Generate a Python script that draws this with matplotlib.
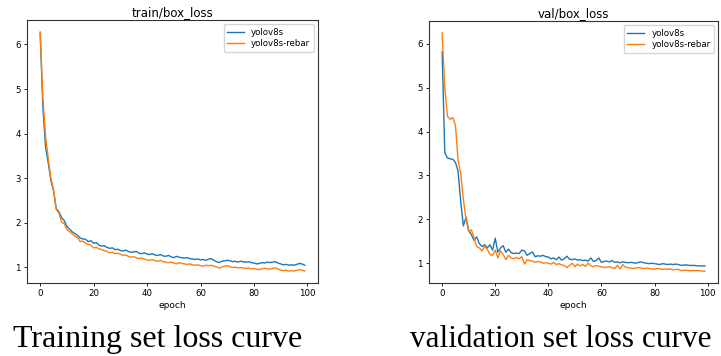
import matplotlib
matplotlib.use("Agg")
import matplotlib.pyplot as plt

epochs = list(range(100))

train_yolov8s = [6.25, 4.60, 3.70, 3.35, 2.95, 2.72, 2.32, 2.25, 2.12, 2.05,
                 1.92, 1.86, 1.80, 1.76, 1.72, 1.66, 1.64, 1.63, 1.58, 1.60,
                 1.54, 1.56, 1.50, 1.48, 1.49, 1.45, 1.43, 1.44, 1.40, 1.41,
                 1.38, 1.37, 1.39, 1.36, 1.34, 1.35, 1.36, 1.32, 1.31, 1.33,
                 1.30, 1.29, 1.31, 1.28, 1.27, 1.29, 1.26, 1.25, 1.27, 1.24,
                 1.22, 1.25, 1.23, 1.22, 1.21, 1.22, 1.20, 1.19, 1.18, 1.19,
                 1.17, 1.18, 1.16, 1.19, 1.20, 1.16, 1.13, 1.11, 1.14, 1.15,
                 1.16, 1.15, 1.13, 1.14, 1.12, 1.14, 1.13, 1.12, 1.13, 1.11,
                 1.10, 1.08, 1.09, 1.11, 1.10, 1.12, 1.11, 1.12, 1.13, 1.10,
                 1.08, 1.06, 1.07, 1.05, 1.06, 1.05, 1.07, 1.09, 1.08, 1.05]

train_rebar = [6.28, 4.80, 3.95, 3.45, 3.00, 2.75, 2.30, 2.22, 2.02, 1.98,
               1.85, 1.80, 1.75, 1.70, 1.67, 1.58, 1.59, 1.54, 1.52, 1.50,
               1.44, 1.45, 1.42, 1.40, 1.38, 1.36, 1.33, 1.34, 1.31, 1.32,
               1.30, 1.27, 1.28, 1.25, 1.23, 1.24, 1.22, 1.20, 1.21, 1.19,
               1.17, 1.16, 1.18, 1.15, 1.14, 1.16, 1.13, 1.12, 1.11, 1.12,
               1.10, 1.08, 1.11, 1.09, 1.08, 1.07, 1.08, 1.06, 1.05, 1.06,
               1.04, 1.03, 1.05, 1.04, 1.05, 1.03, 1.01, 0.99, 1.01, 1.03,
               1.04, 1.02, 1.00, 1.01, 0.99, 1.00, 0.99, 0.98, 0.99, 0.97,
               0.98, 0.96, 0.95, 0.97, 0.98, 0.97, 0.96, 0.98, 0.99, 0.97,
               0.94, 0.93, 0.94, 0.92, 0.93, 0.92, 0.94, 0.95, 0.94, 0.92]

val_yolov8s = [5.82, 3.52, 3.40, 3.38, 3.37, 3.30, 3.10, 2.40, 1.85, 2.05,
               1.75, 1.65, 1.52, 1.60, 1.45, 1.38, 1.42, 1.35, 1.42, 1.30,
               1.57, 1.25, 1.35, 1.40, 1.25, 1.32, 1.24, 1.22, 1.23, 1.22,
               1.30, 1.28, 1.18, 1.22, 1.26, 1.15, 1.17, 1.16, 1.18, 1.15,
               1.14, 1.10, 1.12, 1.08, 1.14, 1.07, 1.10, 1.16, 1.09, 1.08,
               1.10, 1.07, 1.08, 1.06, 1.07, 1.05, 1.12, 1.04, 1.06, 1.12,
               1.02, 1.04, 1.05, 1.03, 1.06, 1.02, 1.03, 1.01, 1.03, 1.02,
               1.01, 1.02, 1.01, 1.00, 1.02, 1.03, 1.01, 1.00, 0.99, 1.00,
               0.99, 0.98, 0.97, 0.99, 0.98, 0.97, 0.98, 0.97, 0.98, 0.97,
               0.95, 0.96, 0.96, 0.95, 0.95, 0.95, 0.94, 0.94, 0.94, 0.94]

val_rebar = [6.25, 5.00, 4.35, 4.28, 4.32, 4.15, 3.35, 3.05, 2.45, 2.00,
             1.72, 1.76, 1.58, 1.38, 1.35, 1.28, 1.38, 1.32, 1.20, 1.18,
             1.30, 1.12, 1.28, 1.20, 1.08, 1.18, 1.12, 1.10, 1.13, 1.10,
             1.15, 0.98, 1.08, 1.06, 1.05, 1.02, 1.04, 1.03, 1.00, 1.01,
             1.00, 0.98, 1.02, 0.97, 0.99, 0.96, 0.95, 0.90, 0.95, 1.00,
             0.92, 0.98, 0.94, 0.97, 0.93, 1.00, 0.94, 0.92, 0.95, 0.93,
             0.92, 0.90, 0.91, 0.92, 0.90, 0.88, 0.95, 0.87, 0.97, 0.91,
             0.90, 0.89, 0.88, 0.89, 0.90, 0.89, 0.88, 0.89, 0.88, 0.87,
             0.86, 0.88, 0.87, 0.86, 0.87, 0.86, 0.87, 0.85, 0.86, 0.86,
             0.83, 0.84, 0.84, 0.83, 0.83, 0.83, 0.83, 0.83, 0.82, 0.82]

series_labels = ["yolov8s", "yolov8s-rebar"]
panel_titles = ["train/box_loss", "val/box_loss"]
captions = ["Training set loss curve", "validation set loss curve"]
x_label = "epoch"
x_ticks = [0, 20, 40, 60, 80, 100]
y_ticks = [1, 2, 3, 4, 5, 6]

fig = plt.figure(figsize=(7.21, 3.56), dpi=100)
ax1 = fig.add_axes([0.0374, 0.205, 0.4036, 0.739])
ax2 = fig.add_axes([0.595, 0.205, 0.401, 0.736])

panels = [(ax1, train_yolov8s, train_rebar, panel_titles[0]),
          (ax2, val_yolov8s, val_rebar, panel_titles[1])]

for ax, base, rebar, title in panels:
    ax.plot(epochs, base, color="#1f77b4", lw=1.0, label=series_labels[0])
    ax.plot(epochs, rebar, color="#ff7f0e", lw=1.0, label=series_labels[1])
    ax.set_title(title, fontsize=8.5, pad=3)
    ax.set_xlabel(x_label, fontsize=6.5, labelpad=2)
    ax.set_xticks(x_ticks)
    ax.set_yticks(y_ticks)
    ax.tick_params(labelsize=6.2, length=2.5, width=0.6, pad=2)
    for sp in ax.spines.values():
        sp.set_linewidth(0.8)
        sp.set_color("#333333")
    ax.legend(loc="upper right", fontsize=6.2, frameon=True, handlelength=2.0,
              borderpad=0.4, labelspacing=0.3, fancybox=True)

fig.text(0.018, 0.025, captions[0], fontsize=23, family="Liberation Serif",
         va="baseline", ha="left")
fig.text(0.5687, 0.025, captions[1], fontsize=22.5, family="Liberation Serif",
         va="baseline", ha="left")

fig.savefig("out.png", dpi=100)
